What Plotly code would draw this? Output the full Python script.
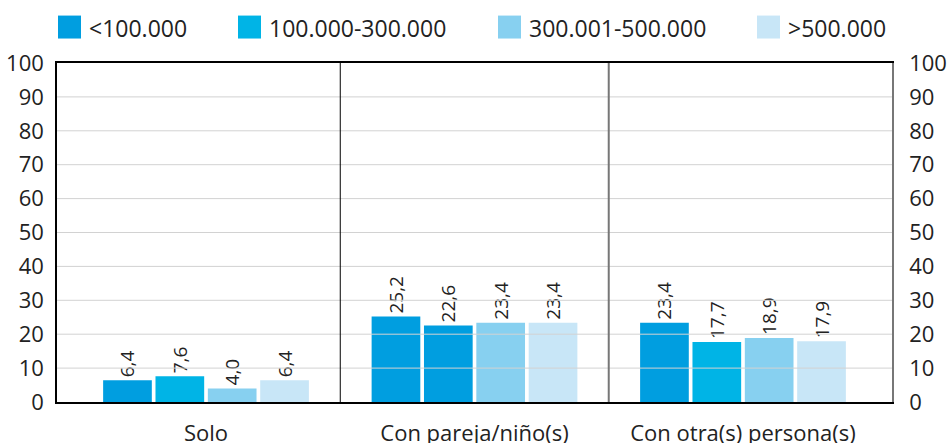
import plotly.graph_objects as go

categories = ["Solo", "Con pareja/niño(s)", "Con otra(s) persona(s)"]
series_names = ["<100.000", "100.000-300.000", "300.001-500.000", ">500.000"]
s1 = [6.4, 25.2, 23.4]
s2 = [7.6, 22.6, 17.7]
s3 = [4.0, 23.4, 18.9]
s4 = [6.4, 23.4, 17.9]
series_values = [s1, s2, s3, s4]
y_ticks = [0, 10, 20, 30, 40, 50, 60, 70, 80, 90, 100]

colors = ["#009EE0", "#00B4E6", "#87D0F0", "#C8E6F7"]
# the reference draws the middle bar of series 2 in the darker blue
bar_colors = [
    [colors[0]] * 3,
    [colors[1], colors[0], colors[1]],
    [colors[2]] * 3,
    [colors[3]] * 3,
]

FONT = "Open Sans"
TXT = "#222222"

FW, FH = 951, 443

fig = go.Figure()
for name, vals, cols in zip(series_names, series_values, bar_colors):
    fig.add_trace(go.Bar(
        x=categories, y=vals, name=name,
        marker=dict(color=cols, line=dict(width=0)),
        texttemplate="%{y:.1f}", textposition="outside", textangle=-90,
        textfont=dict(family=FONT, size=19, color=TXT),
        cliponaxis=False, showlegend=False,
    ))

shapes = []
# gridlines drawn above bars
for t in y_ticks[1:-1]:
    shapes.append(dict(type="line", xref="paper", yref="y", x0=0, x1=1, y0=t, y1=t,
                       line=dict(color="#D2D2D2", width=1), layer="above"))
# group separators
shapes.append(dict(type="line", xref="x", yref="paper", x0=0.5, x1=0.5, y0=0, y1=1,
                   line=dict(color="#000000", width=1), layer="above"))
shapes.append(dict(type="line", xref="x", yref="paper", x0=1.5, x1=1.5, y0=0, y1=1,
                   line=dict(color="#777777", width=2), layer="above"))

# plot area in pixels
L, R, T, B = 57, 892, 62.5, 402
W, H = R - L, B - T
def px(x):
    return (x - L) / W
def py(y):
    return (B - y) / H

legend_sq_x = [58, 238, 498, 757]
annotations = []
for i, name in enumerate(series_names):
    x0 = legend_sq_x[i]
    shapes.append(dict(type="rect", xref="paper", yref="paper",
                       x0=px(x0), x1=px(x0 + 23), y0=py(38), y1=py(15),
                       fillcolor=colors[i], line=dict(width=0)))
    annotations.append(dict(xref="paper", yref="paper", x=px(x0 + 29), y=py(27),
                            xanchor="left", yanchor="middle", text=name, showarrow=False,
                            font=dict(family=FONT, size=23, color=TXT)))

fig.update_layout(
    width=FW, height=FH,
    margin=dict(l=L, r=FW - R, t=T, b=FH - B, pad=0, autoexpand=False),
    paper_bgcolor="white", plot_bgcolor="white",
    separators=",.",
    barmode="group", bargap=0.22, bargroupgap=0.07,
    showlegend=False,
    shapes=shapes, annotations=annotations,
    xaxis=dict(
        showgrid=False, showline=True, linecolor="#000000", linewidth=1.5, mirror=True,
        ticks="", ticklabelstandoff=11, automargin=False,
        tickfont=dict(family=FONT, size=22, color=TXT),
        range=[-0.555, 2.555],
    ),
    yaxis=dict(
        range=[0, 100], tickvals=y_ticks, showgrid=False, zeroline=False,
        showline=True, linecolor="#000000", linewidth=1.5,
        ticks="", ticklabelstandoff=7, automargin=False,
        tickfont=dict(family=FONT, size=22, color=TXT),
    ),
    yaxis2=dict(
        range=[0, 100], tickvals=y_ticks, overlaying="y", side="right",
        showgrid=False, zeroline=False,
        showline=True, linecolor="#777777", linewidth=1.5,
        ticks="", ticklabelstandoff=11, automargin=False,
        tickfont=dict(family=FONT, size=22, color=TXT),
    ),
)
# invisible trace to activate the right axis
fig.add_trace(go.Scatter(x=[categories[0]], y=[0], yaxis="y2", mode="markers",
                         marker=dict(opacity=0), showlegend=False, hoverinfo="skip"))

# remove the default page margin so the figure fills the window exactly
fig.write_html(
    "out.html",
    config={"displayModeBar": False},
    post_script="document.body.style.margin='0';document.body.style.overflow='hidden';",
)
